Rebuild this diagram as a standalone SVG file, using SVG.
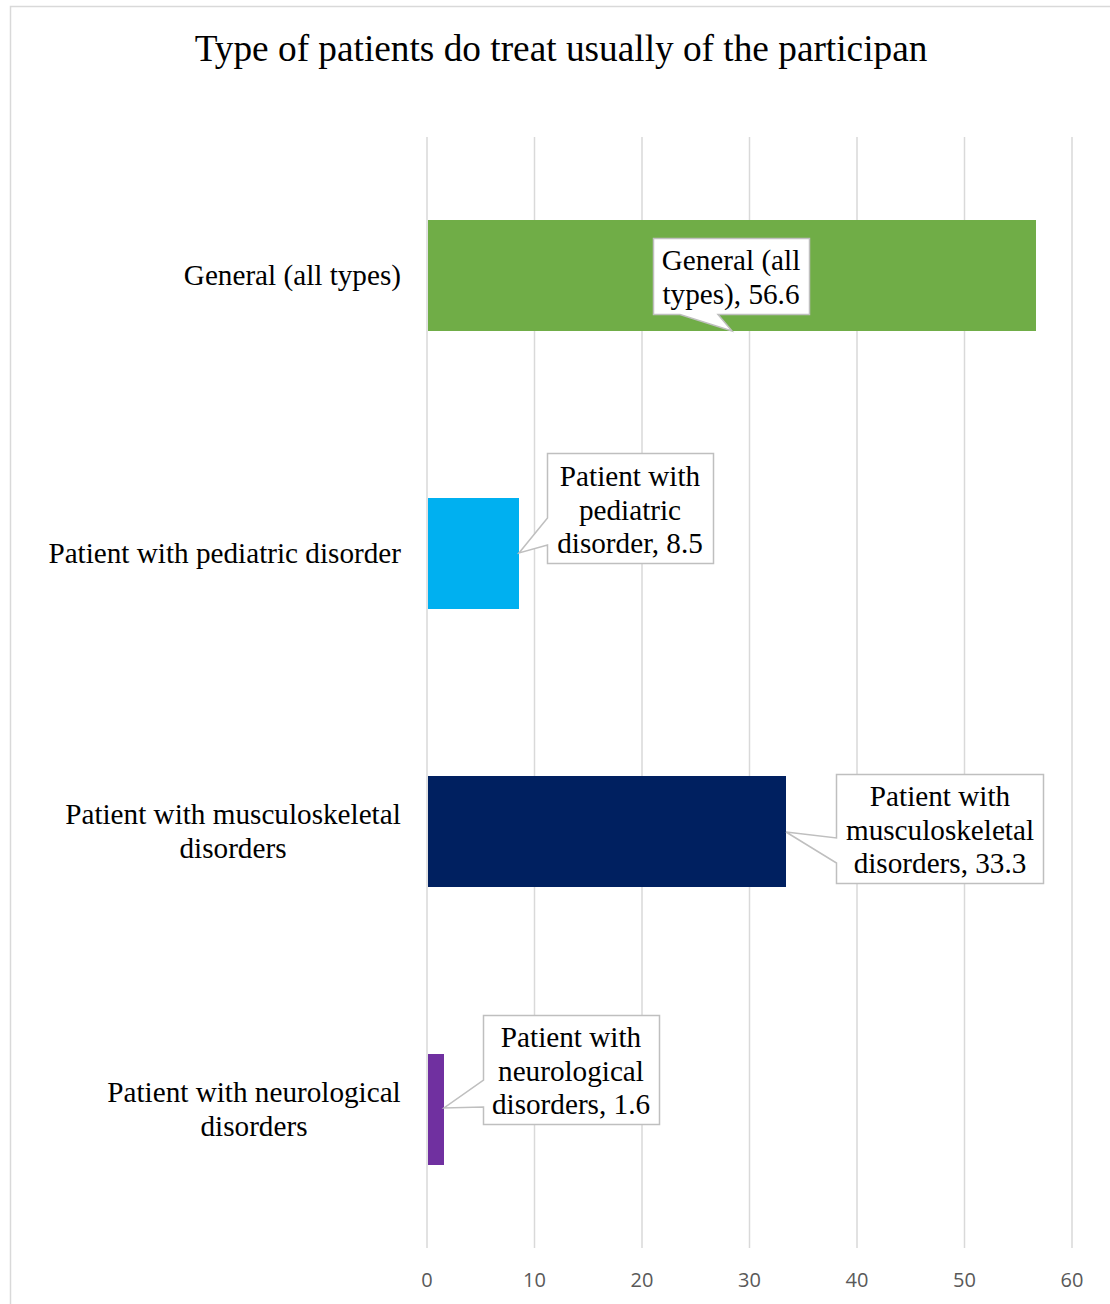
<svg xmlns="http://www.w3.org/2000/svg" width="1110" height="1304" viewBox="0 0 1110 1304">
<style>
.title{font-family:"Liberation Serif","Times New Roman",serif;font-size:37.3px;fill:#000}
.cat{font-family:"Liberation Serif","Times New Roman",serif;font-size:29.2px;fill:#000}
.lbl{font-family:"Liberation Serif","Times New Roman",serif;font-size:29.2px;fill:#000;text-anchor:middle}
.tick{font-family:"Open Sans","Liberation Sans",sans-serif;font-size:20px;fill:#595959;text-anchor:middle}
.grid{stroke:#d9d9d9;stroke-width:1.5}
.callout{fill:#fff;stroke:#bfbfbf;stroke-width:1.5}
</style>
<rect x="0" y="0" width="1110" height="1304" fill="#fff"/>
<rect x="10.5" y="6.5" width="1110" height="1310" fill="#fff" stroke="#d9d9d9" stroke-width="1.5"/>
<text class="title" x="561" y="61" text-anchor="middle">Type of patients do treat usually of the participan</text>
<g id="grid">
<line class="grid" x1="427" y1="137" x2="427" y2="1248"/>
<line class="grid" x1="534.5" y1="137" x2="534.5" y2="1248"/>
<line class="grid" x1="642" y1="137" x2="642" y2="1248"/>
<line class="grid" x1="749.5" y1="137" x2="749.5" y2="1248"/>
<line class="grid" x1="857" y1="137" x2="857" y2="1248"/>
<line class="grid" x1="964.5" y1="137" x2="964.5" y2="1248"/>
<line class="grid" x1="1072" y1="137" x2="1072" y2="1248"/>
</g>
<g id="ticks">
<text class="tick" x="427" y="1287">0</text>
<text class="tick" x="534.5" y="1287">10</text>
<text class="tick" x="642" y="1287">20</text>
<text class="tick" x="749.5" y="1287">30</text>
<text class="tick" x="857" y="1287">40</text>
<text class="tick" x="964.5" y="1287">50</text>
<text class="tick" x="1072" y="1287">60</text>
</g>
<g id="bar-general">
<rect x="428" y="220" width="608" height="111" fill="#70ad47"/>
<text class="cat" x="401" y="285" text-anchor="end">General (all types)</text>
</g>
<g id="bar-pediatric">
<rect x="428" y="498" width="91" height="111" fill="#00b0f0"/>
<text class="cat" x="401" y="563" text-anchor="end">Patient with pediatric disorder</text>
</g>
<g id="bar-musculoskeletal">
<rect x="428" y="776" width="358" height="111" fill="#002060"/>
<text class="cat" x="233" y="824" text-anchor="middle">Patient with musculoskeletal</text>
<text class="cat" x="233" y="858" text-anchor="middle">disorders</text>
</g>
<g id="bar-neurological">
<rect x="428" y="1054" width="16" height="111" fill="#7030a0"/>
<text class="cat" x="254" y="1102" text-anchor="middle">Patient with neurological</text>
<text class="cat" x="254" y="1136" text-anchor="middle">disorders</text>
</g>
<g id="label-general">
<path class="callout" d="M653.5,238.5 H809.5 V314.5 H718 L732,331 L680,314.5 H653.5 Z"/>
<text class="lbl" x="731" y="270">General (all</text>
<text class="lbl" x="731" y="304">types), 56.6</text>
</g>
<g id="label-pediatric">
<path class="callout" d="M547.5,453.5 H713.5 V563.5 H547.5 V545 L519,553 L547.5,518 Z"/>
<text class="lbl" x="630" y="486">Patient with</text>
<text class="lbl" x="630" y="520">pediatric</text>
<text class="lbl" x="630" y="553">disorder, 8.5</text>
</g>
<g id="label-musculoskeletal">
<path class="callout" d="M836.5,774.5 H1043.5 V883.5 H836.5 V863 L786,832 L836.5,838 Z"/>
<text class="lbl" x="940" y="806">Patient with</text>
<text class="lbl" x="940" y="840">musculoskeletal</text>
<text class="lbl" x="940" y="873">disorders, 33.3</text>
</g>
<g id="label-neurological">
<path class="callout" d="M483.5,1015.5 H659.5 V1124.5 H483.5 V1107 L444,1108 L483.5,1080 Z"/>
<text class="lbl" x="571" y="1047">Patient with</text>
<text class="lbl" x="571" y="1081">neurological</text>
<text class="lbl" x="571" y="1114">disorders, 1.6</text>
</g>
</svg>
